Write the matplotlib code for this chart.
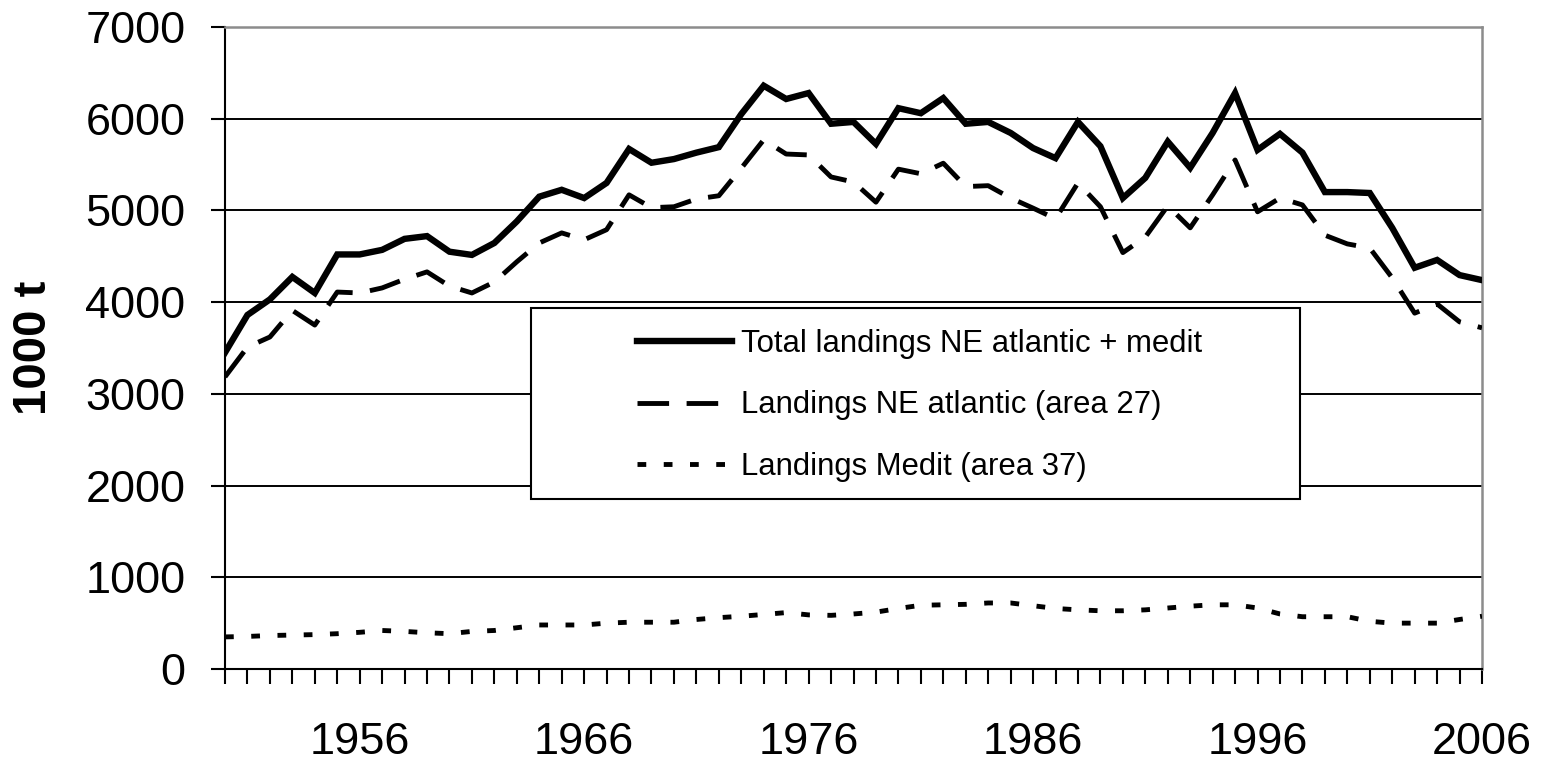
#%% Imports
from matplotlib import pyplot as plt
from matplotlib.patches import Rectangle
import numpy as np

plt.rcParams['font.family'] = ['Liberation Sans', 'DejaVu Sans']

#%% Data (1000 t)
years = np.arange(1950, 2007)

total = [3450, 3860, 4030, 4275, 4100, 4520, 4520, 4570, 4690, 4720,
         4550, 4515, 4645, 4880, 5150, 5225, 5135, 5300, 5670, 5520,
         5560, 5630, 5690, 6050, 6360, 6215, 6280, 5945, 5965, 5725,
         6115, 6060, 6225, 5945, 5965, 5845, 5680, 5570, 5965, 5700,
         5135, 5355, 5750, 5465, 5845, 6280, 5660, 5835, 5630, 5200,
         5200, 5190, 4810, 4375, 4460, 4295, 4240]

atlantic = [3185, 3510, 3620, 3910, 3750, 4110, 4100, 4155, 4250, 4330,
            4175, 4100, 4220, 4440, 4645, 4755, 4680, 4790, 5170, 5030,
            5040, 5125, 5160, 5460, 5770, 5615, 5605, 5365, 5310, 5090,
            5450, 5400, 5515, 5260, 5270, 5135, 5025, 4910, 5300, 5040,
            4540, 4710, 5050, 4810, 5170, 5550, 4985, 5135, 5060, 4730,
            4635, 4590, 4265, 3880, 3980, 3785, 3720]

medit = [350, 355, 365, 370, 375, 385, 400, 420, 410, 395,
         385, 410, 420, 450, 480, 480, 480, 500, 510, 510,
         510, 540, 560, 575, 595, 615, 590, 585, 600, 620,
         660, 695, 700, 705, 720, 720, 690, 660, 645, 635,
         635, 645, 665, 685, 700, 700, 665, 600, 570, 570,
         570, 520, 500, 500, 500, 540, 575]

label_years = [1956, 1966, 1976, 1986, 1996, 2006]
labels = ["Total landings NE atlantic + medit",
          "Landings NE atlantic (area 27)",
          "Landings Medit (area 37)"]

#%% Plot
fig = plt.figure(figsize=(15.44, 7.65), dpi=100)
ax = fig.add_axes([225 / 1544, 1 - 669 / 765, 1257 / 1544, 642 / 765])

ax.plot(years, total, color='black', lw=4.6, solid_joinstyle='miter', label=labels[0], zorder=4)
ax.plot(years, atlantic, color='black', lw=3.5, dashes=(6.5, 3.6), label=labels[1], zorder=4)
ax.plot(years, medit, color='black', lw=3.5, dashes=(1.8, 3.6), label=labels[2], zorder=4)

ax.set_xlim(1950, 2006)
ax.set_ylim(0, 7000)
ax.set_yticks(np.arange(0, 7001, 1000))
ax.set_xticks(label_years)
ax.set_xticks(years, minor=True)
ax.yaxis.grid(True, color='black', lw=1.4)
ax.set_axisbelow(True)

ax.tick_params(axis='y', which='major', direction='out', length=10, width=1.5,
               pad=18.5, labelsize=32.5)
ax.tick_params(axis='x', which='both', direction='out', length=11, width=1.5,
               pad=27, labelsize=32.5)

for s in ['left', 'bottom']:
    ax.spines[s].set_color('black')
    ax.spines[s].set_linewidth(1.5)
for s in ['top', 'right']:
    ax.spines[s].set_color('#8c8c8c')
    ax.spines[s].set_linewidth(1.8)

fig.text(34 / 1544, 1 - 348 / 765, '1000 t', rotation=90, ha='center', va='center',
         fontsize=34, fontweight='bold')

# legend box
ax.add_patch(Rectangle((0.2434, 0.2648), 0.6118, 0.2975, transform=ax.transAxes,
                       facecolor='white', edgecolor='black', lw=1.5, zorder=3))
leg = ax.legend(loc='upper left', bbox_to_anchor=(0.3278, 0.529), frameon=False,
                fontsize=22.4, borderpad=0, borderaxespad=0, handlelength=3.05,
                handletextpad=0.3, labelspacing=1.0)
leg.set_zorder(5)

fig.savefig('out.png', dpi=100)
